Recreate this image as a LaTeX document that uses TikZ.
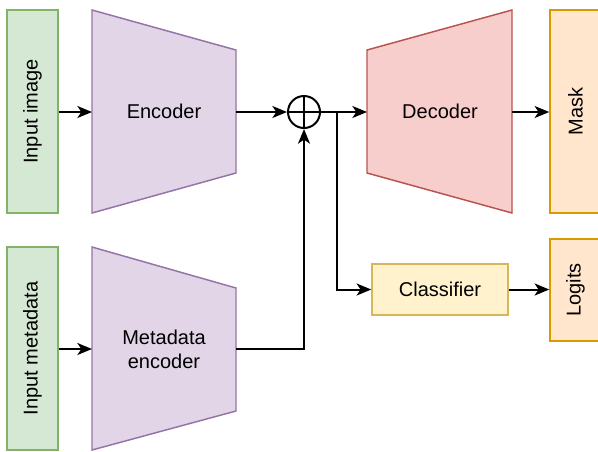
\documentclass[tikz,border=0pt]{standalone}
\usepackage{fontspec}
\setmainfont{Liberation Sans}
\usetikzlibrary{arrows.meta}
\definecolor{gfill}{HTML}{D5E8D4}\definecolor{gdraw}{HTML}{82B366}
\definecolor{pfill}{HTML}{E1D5E7}\definecolor{pdraw}{HTML}{9673A6}
\definecolor{rfill}{HTML}{F8CECC}\definecolor{rdraw}{HTML}{B85450}
\definecolor{ofill}{HTML}{FFE6CC}\definecolor{odraw}{HTML}{D79B00}
\definecolor{yfill}{HTML}{FFF2CC}\definecolor{ydraw}{HTML}{D6B656}
\begin{document}
\begin{tikzpicture}[x=0.75pt,y=-0.75pt,
  every node/.style={font=\fontsize{15}{18}\selectfont, align=center},
  box/.style={draw, line width=1.1pt, inner sep=0pt},
  greenbox/.style={box, fill=gfill, draw=gdraw},
  orangebox/.style={box, fill=ofill, draw=odraw},
  yellowbox/.style={box, fill=yfill, draw=ydraw},
  purptrap/.style={fill=pfill, draw=pdraw, line width=1.1pt, line join=miter},
  redtrap/.style={fill=rfill, draw=rdraw, line width=1.1pt, line join=miter},
  conn/.style={line width=1.5pt, black},
  arr/.style={conn, -{Stealth[length=11pt,width=9pt,inset=3pt]}}]
\useasboundingbox (0,0) rectangle (598,451);
\clip (0,0) rectangle (598,451);
% input boxes
\node[greenbox, minimum width=51*0.75pt, minimum height=203*0.75pt] (inimg) at (32.5,111.5) {};
\node[rotate=90] at (inimg.center) {Input image};
\node[greenbox, minimum width=51*0.75pt, minimum height=203*0.75pt] (inmeta) at (32.5,348.5) {};
\node[rotate=90] at (inmeta.center) {Input metadata};
% encoder
\draw[purptrap] (92,10) -- (236,50) -- (236,173) -- (92,213) -- cycle;
\node (enc) at (164,111.5) {Encoder};
\coordinate (encW) at (92,112);
\coordinate (encE) at (236,112);
% metadata encoder
\draw[purptrap] (92,247) -- (236,288) -- (236,411) -- (92,450) -- cycle;
\node (menc) at (164,349) {Metadata\\encoder};
\coordinate (mencW) at (92,349);
\coordinate (mencE) at (236,349);
% decoder
\draw[redtrap] (367,50) -- (512,10) -- (512,213) -- (367,173) -- cycle;
\node (dec) at (440,111.5) {Decoder};
\coordinate (decW) at (367,112);
\coordinate (decE) at (512,112);
% outputs
\node[orangebox, minimum width=51*0.75pt, minimum height=203*0.75pt] (mask) at (575.5,111.5) {};
\node[rotate=90] at (mask.center) {Mask};
\node[orangebox, minimum width=51*0.75pt, minimum height=102*0.75pt] (logits) at (575.5,290) {};
\node[rotate=90] at (logits.center) {Logits};
\node[yellowbox, minimum width=136*0.75pt, minimum height=51*0.75pt] (cls) at (440,289.5) {Classifier};
% sum
\node[draw, circle, line width=1.5pt, minimum size=32*0.75pt, inner sep=0pt] (sum) at (304,112) {};
\draw[conn] (sum.north) -- (sum.south) (sum.west) -- (sum.east);
\coordinate (branch) at (337,112);
% connectors
\draw[arr] (inimg.east |- encW) -- (encW);
\draw[arr] (inmeta.east |- mencW) -- (mencW);
\draw[arr] (encE) -- (sum.west);
\draw[arr] (sum.east) -- (decW);
\draw[arr] (decE) -- (mask.west |- decE);
\draw[arr] (mencE) -| (sum.south);
\draw[arr] (branch) |- (cls.west);
\draw[arr] (cls.east) -- (logits.west |- cls.east);
\end{tikzpicture}
\end{document}
